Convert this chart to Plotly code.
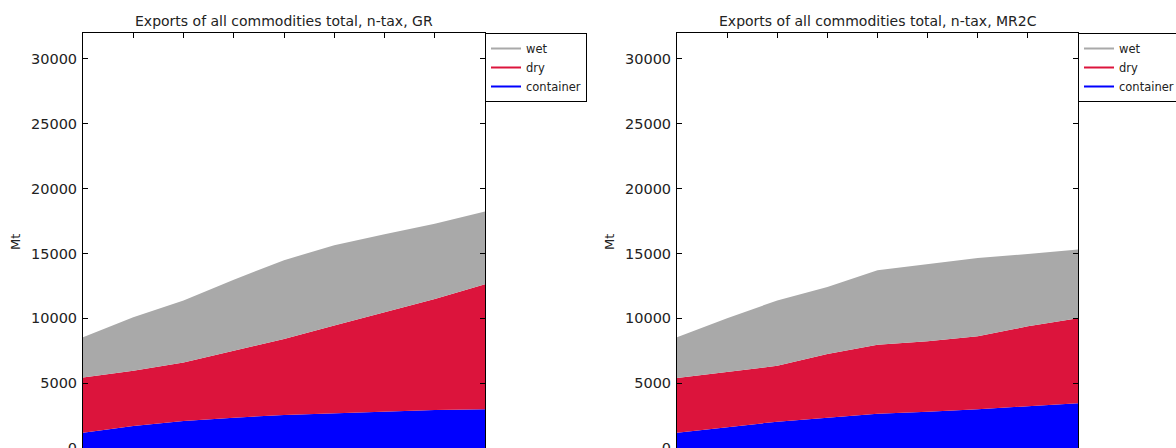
import plotly.graph_objects as go

# Export volumes (Mt) by cargo type, five-year steps
years = [2010, 2015, 2020, 2025, 2030, 2035, 2040, 2045, 2050]

gr_container = [1170, 1690, 2080, 2340, 2540, 2670, 2800, 2930, 2980]
gr_dry = [4270, 4260, 4520, 5160, 5870, 6770, 7670, 8550, 9640]
gr_wet = [3100, 4140, 4780, 5480, 6070, 6200, 6010, 5820, 5610]

mr2c_container = [1170, 1610, 2030, 2340, 2650, 2800, 2980, 3220, 3450]
mr2c_dry = [4220, 4270, 4310, 4910, 5320, 5430, 5640, 6160, 6550]
mr2c_wet = [3150, 4120, 5040, 5160, 5740, 5940, 6040, 5570, 5310]

titles = ["Exports of all commodities total, n-tax, GR",
          "Exports of all commodities total, n-tax, MR2C"]
y_ticks = [0, 5000, 10000, 15000, 20000, 25000, 30000]
y_tick_labels = [str(v) for v in y_ticks]

colors = {"wet": "#A9A9A9", "dry": "#DC143C", "container": "#0000FF"}
FONT = "DejaVu Sans"

W, H = 1176, 448
# plot boxes in pixels: (left, right); shared top/bottom
boxes = [(83, 485), (677, 1078)]
TOP, BOTTOM = 33, 448

fig = go.Figure()

panels = [
    (gr_container, gr_dry, gr_wet),
    (mr2c_container, mr2c_dry, mr2c_wet),
]

for i, (cont, dry, wet) in enumerate(panels):
    xa = "x" if i == 0 else "x2"
    ya = "y" if i == 0 else "y2"
    leg = "legend" if i == 0 else "legend2"
    group = f"stack{i}"
    for name, vals in (("container", cont), ("dry", dry), ("wet", wet)):
        fig.add_trace(go.Scatter(
            x=years, y=vals, xaxis=xa, yaxis=ya,
            stackgroup=group, mode="lines",
            line=dict(width=0, color=colors[name]),
            fillcolor=colors[name], showlegend=False,
            hoverinfo="skip",
        ))
    # legend entries drawn as plain lines
    for name in ("wet", "dry", "container"):
        fig.add_trace(go.Scatter(
            x=[None], y=[None], xaxis=xa, yaxis=ya, mode="lines",
            name=name, line=dict(width=2, color=colors[name]),
            legend=leg, showlegend=True,
        ))

tick_style = dict(
    showline=True, linecolor="black", linewidth=1,
    ticks="inside", ticklen=5, tickcolor="black", tickwidth=1,
    showgrid=False, zeroline=False, automargin=False,
)

for i, (x0, x1) in enumerate(boxes):
    sfx = "" if i == 0 else "2"
    fig.update_layout({
        f"xaxis{sfx}": dict(
            domain=[x0 / W, x1 / W], anchor=f"y{sfx}", side="top",
            mirror=True, range=[2010, 2050], tick0=2010, dtick=5,
            showticklabels=False, **tick_style,
        ),
        f"yaxis{sfx}": dict(
            domain=[(H - BOTTOM) / H, (H - TOP) / H], anchor=f"x{sfx}",
            mirror="ticks", range=[0, 32000],
            tickvals=y_ticks, ticktext=y_tick_labels,
            ticklabeloverflow="allow", ticklabelstandoff=2,
            tickfont=dict(family=FONT, size=14.5, color="#222"),
            **tick_style,
        ),
    })
    fig.add_annotation(
        text=titles[i], xref="paper", yref="paper",
        x=(x0 + x1) / 2 / W, y=(H - 21) / H,
        xanchor="center", yanchor="middle", showarrow=False,
        font=dict(family=FONT, size=14, color="#222"),
    )
    fig.add_annotation(
        text="Mt", xref="paper", yref="paper",
        x=(x0 - 68) / W, y=(H - 242) / H, textangle=-90,
        xanchor="center", yanchor="middle", showarrow=False,
        font=dict(family=FONT, size=13, color="#222"),
    )

legend_common = dict(
    xanchor="left", yanchor="top", y=(H - TOP) / H,
    bgcolor="white", bordercolor="black", borderwidth=1,
    font=dict(family=FONT, size=11.5, color="#222"),
    tracegroupgap=0, traceorder="normal",
)
fig.update_layout(
    legend=dict(x=boxes[0][1] / W, **legend_common),
    legend2=dict(x=boxes[1][1] / W, **legend_common),
)

fig.update_layout(
    width=W, height=H,
    margin=dict(l=0, r=0, t=0, b=0, autoexpand=False),
    paper_bgcolor="white", plot_bgcolor="white",
    font=dict(family=FONT),
)

fig.write_html("out.html")
